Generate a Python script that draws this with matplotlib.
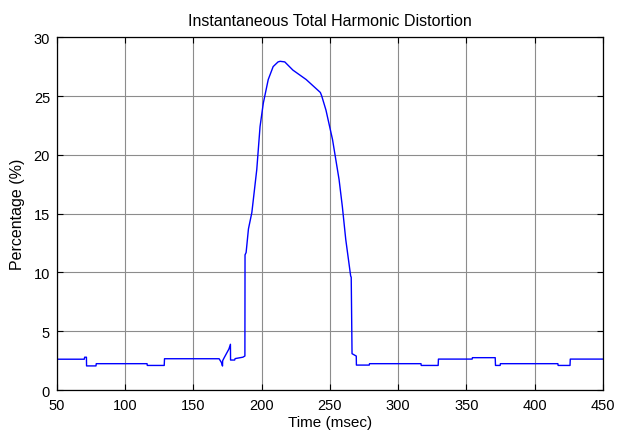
import matplotlib.pyplot as plt

plt.rcParams['font.family'] = ['Liberation Sans', 'DejaVu Sans']

# THD trace (time in msec, THD in %)
time_ms = [50, 70, 70.3, 71.6, 71.7, 78.6, 78.8, 116, 116.2, 128.6, 128.8,
           168.8, 170.5, 171.3, 171.4, 172.5, 174.6, 176.0, 177.1, 177.2,
           180.2, 180.5, 186.2, 187.7, 187.8, 188.6, 190.3, 192.8, 196.4,
           198.8, 201.2, 204.8, 208.4, 212, 213.5, 216.9, 222.9, 232.6,
           243, 244, 247.1, 251.9, 256.7, 259.1, 261.6, 265.2, 265.6,
           266.2, 268.5, 269.3, 269.4, 278.8, 279, 316.7, 316.9, 329.3,
           329.5, 354.2, 354.4, 371.1, 371.3, 374.7, 374.9, 417.0, 417.2,
           425.9, 426.1, 450]
thd_pct = [2.63, 2.63, 2.8, 2.8, 2.06, 2.06, 2.25, 2.25, 2.1, 2.1, 2.67,
           2.67, 2.35, 2.05, 2.5, 2.75, 3.2, 3.5, 3.9, 2.56,
           2.56, 2.68, 2.8, 2.9, 11.5, 11.7, 13.7, 15.1, 18.75,
           22.4, 24.4, 26.4, 27.5, 27.9, 27.95, 27.9, 27.2, 26.4,
           25.3, 25.0, 23.8, 21.3, 17.9, 15.6, 12.8, 9.7, 9.6,
           3.1, 2.95, 2.9, 2.13, 2.13, 2.25, 2.25, 2.1, 2.1,
           2.64, 2.64, 2.76, 2.76, 2.1, 2.1, 2.25, 2.25, 2.1,
           2.1, 2.64, 2.64]

x_ticks = [50, 100, 150, 200, 250, 300, 350, 400, 450]
y_ticks = [0, 5, 10, 15, 20, 25, 30]

fig = plt.figure(figsize=(6.19, 4.39), dpi=100)
ax = fig.add_axes([0.092, 0.109, 0.882, 0.804])

ax.plot(time_ms, thd_pct, color='#0000ff', lw=1.0)

ax.set_xlim(50, 450)
ax.set_ylim(0, 30)
ax.set_xticks(x_ticks)
ax.set_yticks(y_ticks)
ax.grid(True, color='#8c8c8c', lw=0.8)
ax.tick_params(direction='in', top=True, right=True, labelsize=10.5, length=4, width=0.8)
ax.tick_params(axis='x', pad=6)
ax.tick_params(axis='y', pad=5)
for s in ax.spines.values():
    s.set_linewidth(0.9)

ax.set_title('Instantaneous Total Harmonic Distortion', fontsize=11.5, pad=9)
ax.set_xlabel('Time (msec)', fontsize=11, labelpad=2)
ax.set_ylabel('Percentage (%)', fontsize=11.5, labelpad=6)

plt.savefig('out.png', dpi=100)
